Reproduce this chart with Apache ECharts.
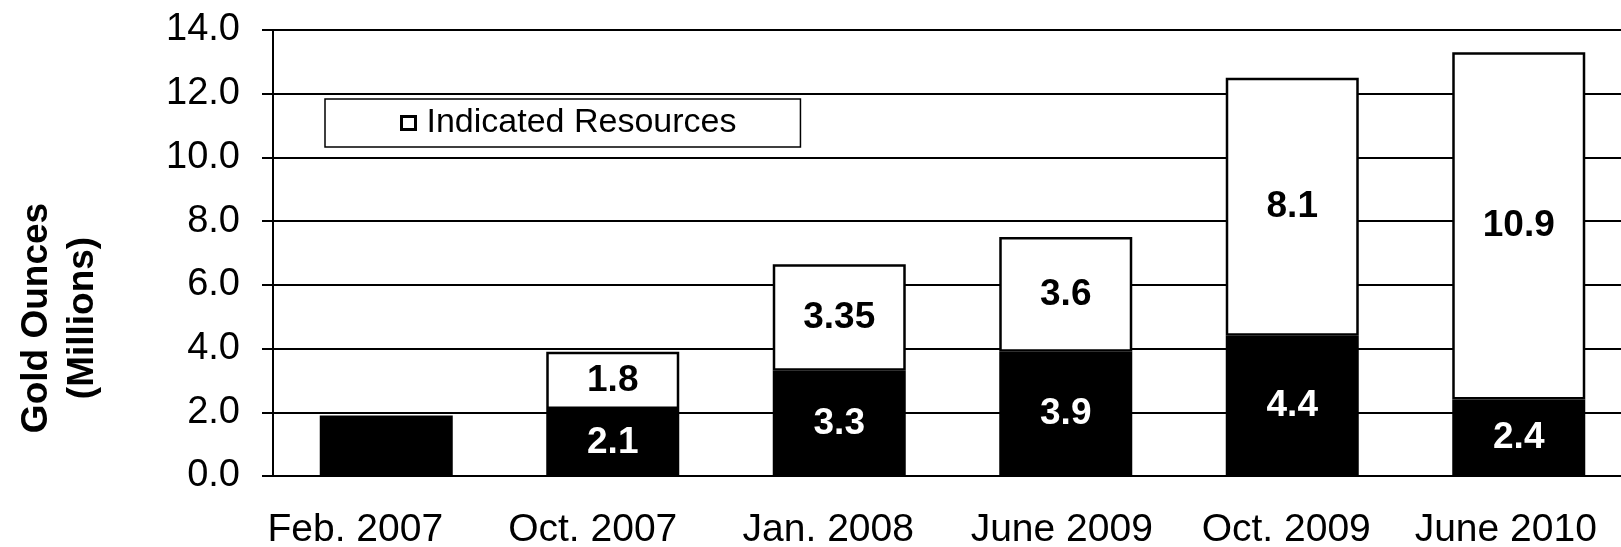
<!DOCTYPE html>
<html>
<head>
<meta charset="utf-8">
<script src="https://cdn.jsdelivr.net/npm/echarts@6/dist/echarts.min.js"></script>
<style>
  html, body { margin: 0; padding: 0; background: #fff; }
  #chart { width: 1621px; height: 547px; }
</style>
</head>
<body>
<div id="chart"></div>
<script>
// categories on the x axis
var categories = ['Feb. 2007', 'Oct. 2007', 'Jan. 2008', 'June 2009', 'Oct. 2009', 'June 2010'];
// black part of each bar (no legend entry)
var measured = [1.9, 2.1, 3.3, 3.9, 4.4, 2.4];
// white part, "Indicated Resources"
var indicated = [null, 1.8, 3.35, 3.6, 8.1, 10.9];
// y axis range
var yMin = 0, yMax = 14, yStep = 2;

// the category labels in the picture sit a little left of their bars (px)
var labelShift = [31, 20, 11, 4, 6, 13];

var fontName = '"Liberation Sans", Arial, sans-serif';
var chart = echarts.init(document.getElementById('chart'));

// the first bar carries no label in the picture
var measuredData = measured.map(function (v, i) {
    return i === 0 ? { value: v, label: { show: false } } : v;
});

var catData = categories.map(function (c, i) {
    return { value: c, textStyle: { padding: [0, labelShift[i] * 2, 0, 0] } };
});

var option = {
    backgroundColor: '#fff',
    animation: false,
    grid: { left: 273, right: -11, top: 30, bottom: 71, outerBoundsMode: 'none' },
    legend: {
        data: ['Indicated Resources'],
        left: 325, top: 99,
        padding: [7, 64, 7, 75],
        backgroundColor: '#fff',
        borderColor: '#000',
        borderWidth: 1.5,
        itemWidth: 14, itemHeight: 13, itemGap: 10,
        icon: 'rect',
        itemStyle: { color: '#fff', borderColor: '#000', borderWidth: 3 },
        textStyle: { color: '#000', fontSize: 34, fontFamily: fontName, padding: [0, 0, 0, 6] }
    },
    xAxis: {
        type: 'category',
        data: catData,
        axisLine: { lineStyle: { color: '#000', width: 2 } },
        axisTick: { show: false },
        axisLabel: { color: '#000', fontSize: 39, fontFamily: fontName, margin: 35, interval: 0 }
    },
    yAxis: {
        type: 'value',
        min: yMin, max: yMax, interval: yStep,
        axisLine: { show: true, lineStyle: { color: '#000', width: 2 } },
        axisTick: { show: true, length: 11, lineStyle: { color: '#000', width: 2 } },
        splitLine: { lineStyle: { color: '#000', width: 2 } },
        axisLabel: {
            color: '#000', fontSize: 38, fontFamily: fontName, margin: 33,
            formatter: function (v) { return v.toFixed(1); }
        }
    },
    graphic: [{
        type: 'text',
        x: 60, y: 318,
        rotation: Math.PI / 2,
        style: {
            text: 'Gold Ounces\n(Millions)',
            fill: '#000',
            fontSize: 37, fontWeight: 'bold', fontFamily: fontName,
            lineHeight: 46,
            align: 'center', verticalAlign: 'middle'
        }
    }],
    series: [{
        name: 'Measured',
        type: 'bar',
        stack: 'total',
        barWidth: 133,
        data: measuredData,
        itemStyle: { color: '#000' },
        label: {
            show: true, position: 'inside', color: '#fff',
            fontSize: 37, fontWeight: 'bold', fontFamily: fontName
        }
    }, {
        name: 'Indicated Resources',
        type: 'bar',
        stack: 'total',
        barWidth: 133,
        data: indicated,
        itemStyle: { color: '#fff', borderColor: '#000', borderWidth: 2.5 },
        label: {
            show: true, position: 'inside', color: '#000',
            fontSize: 37, fontWeight: 'bold', fontFamily: fontName
        }
    }]
};
chart.setOption(option);
</script>
</body>
</html>
